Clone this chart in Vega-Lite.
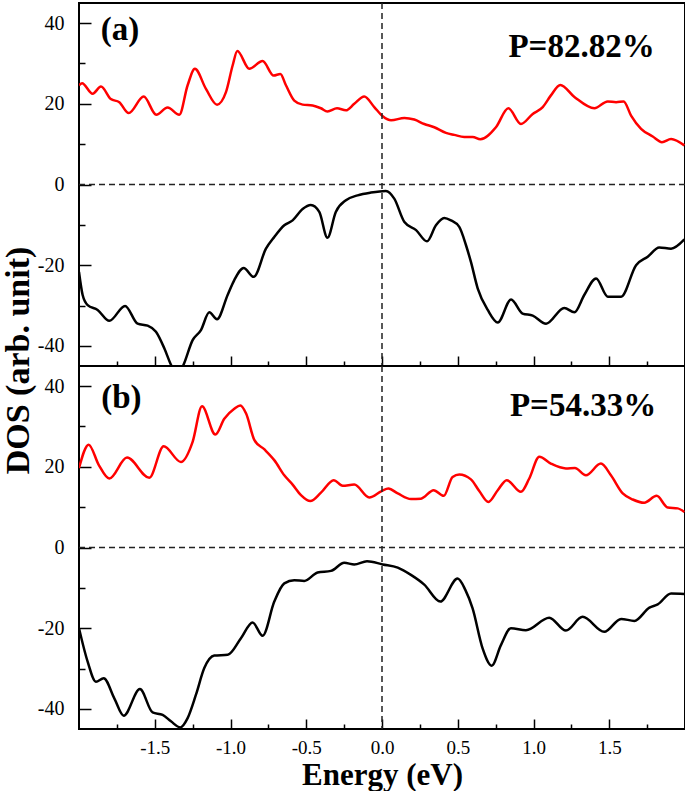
{
  "$schema": "https://vega.github.io/schema/vega-lite/v6.json",
  "background": "white",
  "padding": {"left": 0, "top": 1, "right": 0, "bottom": 0},
  "spacing": 0,
  "bounds": "flush",
  "config": {
    "view": {"stroke": "black", "strokeWidth": 2},
    "font": "Liberation Serif",
    "axis": {
      "labelFont": "Liberation Serif", "labelFontSize": 20, "labelColor": "black",
      "titleFont": "Liberation Serif", "titleFontSize": 32, "titleFontWeight": "bold", "titleColor": "black",
      "tickColor": "black", "tickWidth": 1.5, "domain": false, "grid": false
    }
  },
  "datasets": {
    "curves": [
      {"p":"a","s":"up","E":-2.0,"v":24.6},{"p":"a","s":"up","E":-1.98,"v":25.1},{"p":"a","s":"up","E":-1.91,"v":22.5},{"p":"a","s":"up","E":-1.855,"v":24.3},{"p":"a","s":"up","E":-1.79,"v":21.2},{"p":"a","s":"up","E":-1.734,"v":20.4},{"p":"a","s":"up","E":-1.672,"v":17.7},{"p":"a","s":"up","E":-1.573,"v":21.8},{"p":"a","s":"up","E":-1.49,"v":17.3},{"p":"a","s":"up","E":-1.415,"v":19.1},{"p":"a","s":"up","E":-1.338,"v":17.3},{"p":"a","s":"up","E":-1.283,"v":24.6},{"p":"a","s":"up","E":-1.235,"v":28.7},{"p":"a","s":"up","E":-1.162,"v":23.7},{"p":"a","s":"up","E":-1.089,"v":19.8},{"p":"a","s":"up","E":-1.03,"v":22.9},{"p":"a","s":"up","E":-0.986,"v":29.5},{"p":"a","s":"up","E":-0.955,"v":33.1},{"p":"a","s":"up","E":-0.876,"v":28.7},{"p":"a","s":"up","E":-0.788,"v":30.6},{"p":"a","s":"up","E":-0.715,"v":27.0},{"p":"a","s":"up","E":-0.671,"v":27.4},{"p":"a","s":"up","E":-0.634,"v":24.6},{"p":"a","s":"up","E":-0.579,"v":20.8},{"p":"a","s":"up","E":-0.524,"v":19.8},{"p":"a","s":"up","E":-0.458,"v":19.6},{"p":"a","s":"up","E":-0.403,"v":18.9},{"p":"a","s":"up","E":-0.36,"v":18.1},{"p":"a","s":"up","E":-0.297,"v":18.9},{"p":"a","s":"up","E":-0.238,"v":18.4},{"p":"a","s":"up","E":-0.183,"v":20.0},{"p":"a","s":"up","E":-0.117,"v":21.8},{"p":"a","s":"up","E":-0.051,"v":19.2},{"p":"a","s":"up","E":0.005,"v":16.9},{"p":"a","s":"up","E":0.06,"v":15.9},{"p":"a","s":"up","E":0.148,"v":16.5},{"p":"a","s":"up","E":0.213,"v":16.1},{"p":"a","s":"up","E":0.279,"v":15.0},{"p":"a","s":"up","E":0.345,"v":14.2},{"p":"a","s":"up","E":0.422,"v":12.8},{"p":"a","s":"up","E":0.477,"v":12.3},{"p":"a","s":"up","E":0.543,"v":11.8},{"p":"a","s":"up","E":0.599,"v":11.8},{"p":"a","s":"up","E":0.649,"v":11.2},{"p":"a","s":"up","E":0.752,"v":14.2},{"p":"a","s":"up","E":0.834,"v":18.9},{"p":"a","s":"up","E":0.917,"v":15.0},{"p":"a","s":"up","E":0.995,"v":17.5},{"p":"a","s":"up","E":1.061,"v":19.2},{"p":"a","s":"up","E":1.115,"v":22.1},{"p":"a","s":"up","E":1.177,"v":24.7},{"p":"a","s":"up","E":1.27,"v":21.7},{"p":"a","s":"up","E":1.402,"v":18.9},{"p":"a","s":"up","E":1.49,"v":20.6},{"p":"a","s":"up","E":1.545,"v":20.4},{"p":"a","s":"up","E":1.595,"v":20.6},{"p":"a","s":"up","E":1.644,"v":17.1},{"p":"a","s":"up","E":1.71,"v":13.8},{"p":"a","s":"up","E":1.787,"v":11.9},{"p":"a","s":"up","E":1.848,"v":10.5},{"p":"a","s":"up","E":1.908,"v":11.3},{"p":"a","s":"up","E":1.996,"v":9.7},
      {"p":"a","s":"dn","E":-2.0,"v":-21.7},{"p":"a","s":"dn","E":-1.976,"v":-27.4},{"p":"a","s":"dn","E":-1.943,"v":-29.9},{"p":"a","s":"dn","E":-1.877,"v":-31.1},{"p":"a","s":"dn","E":-1.8,"v":-33.8},{"p":"a","s":"dn","E":-1.696,"v":-30.1},{"p":"a","s":"dn","E":-1.613,"v":-34.5},{"p":"a","s":"dn","E":-1.547,"v":-35.0},{"p":"a","s":"dn","E":-1.492,"v":-36.5},{"p":"a","s":"dn","E":-1.437,"v":-40.6},{"p":"a","s":"dn","E":-1.393,"v":-44.7},{"p":"a","s":"dn","E":-1.35,"v":-47.5},{"p":"a","s":"dn","E":-1.31,"v":-44.7},{"p":"a","s":"dn","E":-1.25,"v":-38.6},{"p":"a","s":"dn","E":-1.195,"v":-36.1},{"p":"a","s":"dn","E":-1.14,"v":-31.7},{"p":"a","s":"dn","E":-1.089,"v":-33.4},{"p":"a","s":"dn","E":-1.019,"v":-27.4},{"p":"a","s":"dn","E":-0.975,"v":-23.7},{"p":"a","s":"dn","E":-0.913,"v":-20.7},{"p":"a","s":"dn","E":-0.847,"v":-22.9},{"p":"a","s":"dn","E":-0.766,"v":-15.9},{"p":"a","s":"dn","E":-0.711,"v":-13.0},{"p":"a","s":"dn","E":-0.645,"v":-10.1},{"p":"a","s":"dn","E":-0.59,"v":-8.9},{"p":"a","s":"dn","E":-0.524,"v":-6.1},{"p":"a","s":"dn","E":-0.47,"v":-5.1},{"p":"a","s":"dn","E":-0.414,"v":-6.8},{"p":"a","s":"dn","E":-0.36,"v":-13.2},{"p":"a","s":"dn","E":-0.305,"v":-6.8},{"p":"a","s":"dn","E":-0.238,"v":-3.9},{"p":"a","s":"dn","E":-0.161,"v":-2.7},{"p":"a","s":"dn","E":-0.073,"v":-2.0},{"p":"a","s":"dn","E":0.026,"v":-1.6},{"p":"a","s":"dn","E":0.081,"v":-3.5},{"p":"a","s":"dn","E":0.148,"v":-9.3},{"p":"a","s":"dn","E":0.225,"v":-11.3},{"p":"a","s":"dn","E":0.297,"v":-14.1},{"p":"a","s":"dn","E":0.356,"v":-10.1},{"p":"a","s":"dn","E":0.411,"v":-8.3},{"p":"a","s":"dn","E":0.455,"v":-8.9},{"p":"a","s":"dn","E":0.51,"v":-10.5},{"p":"a","s":"dn","E":0.554,"v":-15.0},{"p":"a","s":"dn","E":0.587,"v":-19.2},{"p":"a","s":"dn","E":0.632,"v":-25.8},{"p":"a","s":"dn","E":0.698,"v":-31.1},{"p":"a","s":"dn","E":0.764,"v":-34.2},{"p":"a","s":"dn","E":0.852,"v":-28.5},{"p":"a","s":"dn","E":0.928,"v":-32.0},{"p":"a","s":"dn","E":0.995,"v":-32.5},{"p":"a","s":"dn","E":1.083,"v":-34.5},{"p":"a","s":"dn","E":1.203,"v":-30.6},{"p":"a","s":"dn","E":1.27,"v":-31.7},{"p":"a","s":"dn","E":1.335,"v":-27.4},{"p":"a","s":"dn","E":1.413,"v":-23.3},{"p":"a","s":"dn","E":1.49,"v":-27.8},{"p":"a","s":"dn","E":1.578,"v":-27.8},{"p":"a","s":"dn","E":1.677,"v":-20.0},{"p":"a","s":"dn","E":1.754,"v":-17.9},{"p":"a","s":"dn","E":1.83,"v":-15.6},{"p":"a","s":"dn","E":1.908,"v":-15.9},{"p":"a","s":"dn","E":1.996,"v":-13.6},
      {"p":"b","s":"up","E":-2.0,"v":19.7},{"p":"b","s":"up","E":-1.936,"v":25.5},{"p":"b","s":"up","E":-1.87,"v":20.5},{"p":"b","s":"up","E":-1.8,"v":17.1},{"p":"b","s":"up","E":-1.683,"v":22.3},{"p":"b","s":"up","E":-1.536,"v":17.3},{"p":"b","s":"up","E":-1.441,"v":25.1},{"p":"b","s":"up","E":-1.327,"v":21.2},{"p":"b","s":"up","E":-1.25,"v":26.2},{"p":"b","s":"up","E":-1.188,"v":35.0},{"p":"b","s":"up","E":-1.1,"v":28.0},{"p":"b","s":"up","E":-1.041,"v":31.9},{"p":"b","s":"up","E":-0.975,"v":34.4},{"p":"b","s":"up","E":-0.935,"v":35.2},{"p":"b","s":"up","E":-0.897,"v":33.2},{"p":"b","s":"up","E":-0.842,"v":26.6},{"p":"b","s":"up","E":-0.776,"v":24.3},{"p":"b","s":"up","E":-0.71,"v":21.6},{"p":"b","s":"up","E":-0.645,"v":17.9},{"p":"b","s":"up","E":-0.59,"v":15.6},{"p":"b","s":"up","E":-0.535,"v":13.0},{"p":"b","s":"up","E":-0.473,"v":11.5},{"p":"b","s":"up","E":-0.403,"v":13.6},{"p":"b","s":"up","E":-0.319,"v":16.7},{"p":"b","s":"up","E":-0.26,"v":15.3},{"p":"b","s":"up","E":-0.183,"v":15.6},{"p":"b","s":"up","E":-0.084,"v":12.4},{"p":"b","s":"up","E":-0.002,"v":14.0},{"p":"b","s":"up","E":0.042,"v":14.6},{"p":"b","s":"up","E":0.104,"v":13.4},{"p":"b","s":"up","E":0.191,"v":12.0},{"p":"b","s":"up","E":0.257,"v":12.1},{"p":"b","s":"up","E":0.341,"v":14.2},{"p":"b","s":"up","E":0.407,"v":12.8},{"p":"b","s":"up","E":0.466,"v":17.5},{"p":"b","s":"up","E":0.51,"v":18.1},{"p":"b","s":"up","E":0.587,"v":16.9},{"p":"b","s":"up","E":0.642,"v":14.0},{"p":"b","s":"up","E":0.702,"v":11.3},{"p":"b","s":"up","E":0.764,"v":14.2},{"p":"b","s":"up","E":0.823,"v":16.7},{"p":"b","s":"up","E":0.917,"v":13.8},{"p":"b","s":"up","E":0.972,"v":17.1},{"p":"b","s":"up","E":1.038,"v":22.5},{"p":"b","s":"up","E":1.115,"v":20.8},{"p":"b","s":"up","E":1.214,"v":19.6},{"p":"b","s":"up","E":1.273,"v":19.7},{"p":"b","s":"up","E":1.346,"v":17.9},{"p":"b","s":"up","E":1.445,"v":20.8},{"p":"b","s":"up","E":1.511,"v":17.9},{"p":"b","s":"up","E":1.589,"v":13.4},{"p":"b","s":"up","E":1.655,"v":11.9},{"p":"b","s":"up","E":1.731,"v":11.1},{"p":"b","s":"up","E":1.813,"v":12.8},{"p":"b","s":"up","E":1.886,"v":9.9},{"p":"b","s":"up","E":1.952,"v":9.7},{"p":"b","s":"up","E":1.996,"v":8.8},
      {"p":"b","s":"dn","E":-2.0,"v":-20.0},{"p":"b","s":"dn","E":-1.943,"v":-28.3},{"p":"b","s":"dn","E":-1.888,"v":-33.3},{"p":"b","s":"dn","E":-1.837,"v":-32.4},{"p":"b","s":"dn","E":-1.767,"v":-37.4},{"p":"b","s":"dn","E":-1.705,"v":-41.7},{"p":"b","s":"dn","E":-1.598,"v":-35.1},{"p":"b","s":"dn","E":-1.514,"v":-40.9},{"p":"b","s":"dn","E":-1.448,"v":-41.5},{"p":"b","s":"dn","E":-1.393,"v":-43.1},{"p":"b","s":"dn","E":-1.331,"v":-44.6},{"p":"b","s":"dn","E":-1.283,"v":-42.3},{"p":"b","s":"dn","E":-1.228,"v":-36.5},{"p":"b","s":"dn","E":-1.173,"v":-29.9},{"p":"b","s":"dn","E":-1.107,"v":-26.8},{"p":"b","s":"dn","E":-1.018,"v":-26.6},{"p":"b","s":"dn","E":-0.931,"v":-22.5},{"p":"b","s":"dn","E":-0.854,"v":-18.6},{"p":"b","s":"dn","E":-0.788,"v":-21.9},{"p":"b","s":"dn","E":-0.711,"v":-13.4},{"p":"b","s":"dn","E":-0.645,"v":-8.9},{"p":"b","s":"dn","E":-0.579,"v":-8.1},{"p":"b","s":"dn","E":-0.513,"v":-8.3},{"p":"b","s":"dn","E":-0.425,"v":-6.2},{"p":"b","s":"dn","E":-0.337,"v":-5.8},{"p":"b","s":"dn","E":-0.249,"v":-3.8},{"p":"b","s":"dn","E":-0.183,"v":-4.2},{"p":"b","s":"dn","E":-0.099,"v":-3.4},{"p":"b","s":"dn","E":0.005,"v":-4.2},{"p":"b","s":"dn","E":0.104,"v":-5.0},{"p":"b","s":"dn","E":0.191,"v":-6.8},{"p":"b","s":"dn","E":0.279,"v":-9.2},{"p":"b","s":"dn","E":0.385,"v":-13.4},{"p":"b","s":"dn","E":0.499,"v":-7.7},{"p":"b","s":"dn","E":0.55,"v":-10.5},{"p":"b","s":"dn","E":0.598,"v":-15.1},{"p":"b","s":"dn","E":0.664,"v":-25.0},{"p":"b","s":"dn","E":0.724,"v":-29.3},{"p":"b","s":"dn","E":0.785,"v":-24.2},{"p":"b","s":"dn","E":0.851,"v":-20.0},{"p":"b","s":"dn","E":0.95,"v":-20.5},{"p":"b","s":"dn","E":1.104,"v":-17.4},{"p":"b","s":"dn","E":1.214,"v":-20.6},{"p":"b","s":"dn","E":1.324,"v":-17.2},{"p":"b","s":"dn","E":1.467,"v":-20.9},{"p":"b","s":"dn","E":1.578,"v":-17.7},{"p":"b","s":"dn","E":1.666,"v":-18.2},{"p":"b","s":"dn","E":1.765,"v":-14.9},{"p":"b","s":"dn","E":1.82,"v":-14.1},{"p":"b","s":"dn","E":1.908,"v":-11.4},{"p":"b","s":"dn","E":1.996,"v":-11.5}
    ],
    "notes": [
      {"p":"a","label":"(a)","E":-1.729,"v":35.8},
      {"p":"a","label":"P=82.82%","E":1.317,"v":31.6},
      {"p":"b","label":"(b)","E":-1.72,"v":34.6},
      {"p":"b","label":"P=54.33%","E":1.327,"v":32.6}
    ]
  },
  "vconcat": [
    {
      "width": 606, "height": 363,
      "layer": [
        {
          "data": {"name": "curves"},
          "transform": [{"filter": "datum.p === 'a'"}],
          "mark": {"type": "line", "interpolate": "monotone", "strokeWidth": 2.5, "clip": true},
          "encoding": {
            "x": {"field": "E", "type": "quantitative", "scale": {"domain": [-2, 2], "nice": false},
              "axis": {"values": [-1.75,-1.5,-1.25,-1,-0.75,-0.5,-0.25,0,0.25,0.5,0.75,1,1.25,1.5,1.75], "labels": false, "title": null,
                "tickSize": {"condition": {"test": "datum.value % 0.5 === 0", "value": -10}, "value": -5}}},
            "y": {"field": "v", "type": "quantitative", "scale": {"domain": [-45, 45], "nice": false},
              "axis": {"values": [-40,-30,-20,-10,0,10,20,30,40],
                "labelExpr": "datum.value % 20 === 0 ? replace(datum.label, '\u2212', '-') : ''",
                "tickSize": {"condition": {"test": "datum.value % 20 === 0", "value": -12}, "value": -6},
                "labelPadding": 27,
                "title": "DOS (arb. unit)", "titleAngle": -90, "titleX": -51, "titleY": 357, "titleAlign": "center", "titleBaseline": "alphabetic", "titleFontSize": 34}},
            "color": {"field": "s", "type": "nominal", "scale": {"domain": ["up", "dn"], "range": ["#ff0000", "#000000"]}, "legend": null}
          }
        },
        {
          "data": {"values": [{}]},
          "mark": {"type": "rule", "strokeDash": [6, 4], "strokeWidth": 1.5, "color": "#222"},
          "encoding": {"y": {"datum": 0}}
        },
        {
          "data": {"values": [{}]},
          "mark": {"type": "rule", "strokeDash": [6, 4], "strokeWidth": 1.5, "color": "#222"},
          "encoding": {"x": {"datum": 0}}
        },
        {
          "data": {"name": "notes"},
          "transform": [{"filter": "datum.p === 'a'"}],
          "mark": {"type": "text", "font": "Liberation Serif", "fontWeight": "bold", "fontSize": 33, "baseline": "alphabetic", "align": "center", "color": "black"},
          "encoding": {
            "x": {"field": "E", "type": "quantitative"},
            "y": {"field": "v", "type": "quantitative"},
            "text": {"field": "label"}
          }
        }
      ]
    },
    {
      "width": 606, "height": 363,
      "layer": [
        {
          "data": {"name": "curves"},
          "transform": [{"filter": "datum.p === 'b'"}],
          "mark": {"type": "line", "interpolate": "monotone", "strokeWidth": 2.5, "clip": true},
          "encoding": {
            "x": {"field": "E", "type": "quantitative", "scale": {"domain": [-2, 2], "nice": false},
              "axis": {"values": [-1.75,-1.5,-1.25,-1,-0.75,-0.5,-0.25,0,0.25,0.5,0.75,1,1.25,1.5,1.75],
                "labelExpr": "datum.value % 0.5 === 0 ? replace(format(datum.value, '.1f'), '\u2212', '-') : ''",
                "tickSize": {"condition": {"test": "datum.value % 0.5 === 0", "value": -10}, "value": -5},
                "labelPadding": 19, "labelFontSize": 19,
                "title": "Energy (eV)", "titlePadding": 3, "titleFontSize": 31}},
            "y": {"field": "v", "type": "quantitative", "scale": {"domain": [-45, 45], "nice": false},
              "axis": {"values": [-40,-30,-20,-10,0,10,20,30,40],
                "labelExpr": "datum.value % 20 === 0 ? replace(datum.label, '\u2212', '-') : ''",
                "tickSize": {"condition": {"test": "datum.value % 20 === 0", "value": -12}, "value": -6},
                "labelPadding": 27,
                "title": null}},
            "color": {"field": "s", "type": "nominal", "scale": {"domain": ["up", "dn"], "range": ["#ff0000", "#000000"]}, "legend": null}
          }
        },
        {
          "data": {"values": [{}]},
          "mark": {"type": "rule", "strokeDash": [6, 4], "strokeWidth": 1.5, "color": "#222"},
          "encoding": {"y": {"datum": 0}}
        },
        {
          "data": {"values": [{}]},
          "mark": {"type": "rule", "strokeDash": [6, 4], "strokeWidth": 1.5, "color": "#222"},
          "encoding": {"x": {"datum": 0}}
        },
        {
          "data": {"name": "notes"},
          "transform": [{"filter": "datum.p === 'b'"}],
          "mark": {"type": "text", "font": "Liberation Serif", "fontWeight": "bold", "fontSize": 33, "baseline": "alphabetic", "align": "center", "color": "black"},
          "encoding": {
            "x": {"field": "E", "type": "quantitative"},
            "y": {"field": "v", "type": "quantitative"},
            "text": {"field": "label"}
          }
        }
      ]
    }
  ]
}
